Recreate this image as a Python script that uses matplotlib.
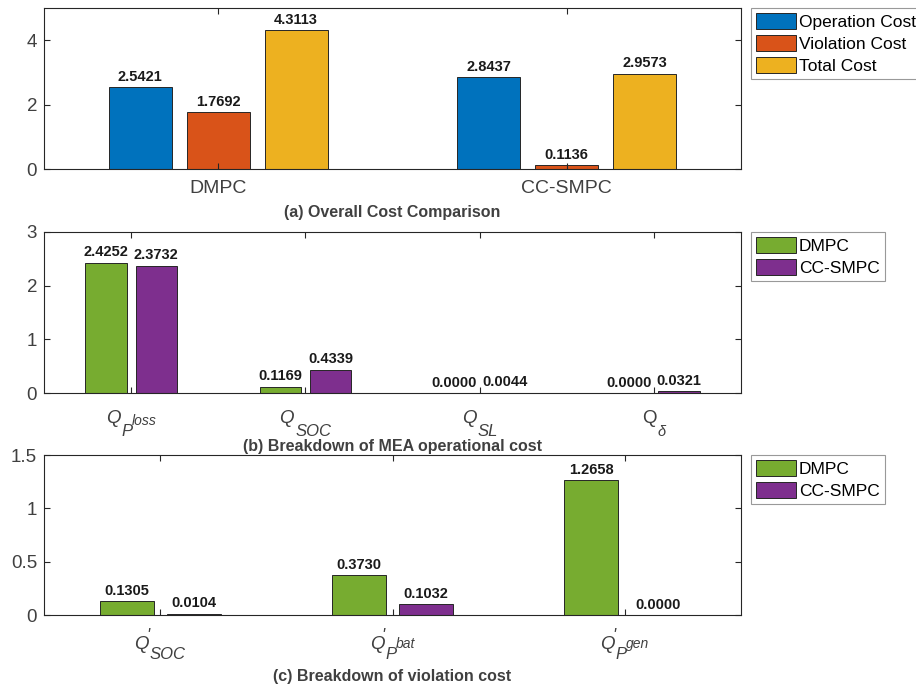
import matplotlib
matplotlib.use("Agg")
import matplotlib.pyplot as plt
import numpy as np

plt.rcParams['font.family'] = ['Liberation Sans', 'DejaVu Sans']

# (a) overall cost
cost_groups = ['DMPC', 'CC-SMPC']
cost_series = ['Operation Cost', 'Violation Cost', 'Total Cost']
operation_cost = [2.5421, 2.8437]
violation_cost = [1.7692, 0.1136]
total_cost = [4.3113, 2.9573]

# (b) operational cost breakdown: (subscript, superscript of subscript, prime, italic Q)
op_labels = [('P', 'loss', False, True), ('SOC', None, False, True),
             ('SL', None, False, True), ('\u03b4', None, False, False)]
op_dmpc = [2.4252, 0.1169, 0.0000, 0.0000]
op_ccsmpc = [2.3732, 0.4339, 0.0044, 0.0321]

# (c) violation cost breakdown
vio_labels = [('SOC', None, True, True), ('P', 'bat', True, True),
              ('P', 'gen', True, True)]
vio_dmpc = [0.1305, 0.3730, 1.2658]
vio_ccsmpc = [0.0104, 0.1032, 0.0000]

methods = ['DMPC', 'CC-SMPC']

c_blue = '#0072BD'
c_orange = '#D95319'
c_yellow = '#EDB120'
c_green = '#77AC30'
c_purple = '#7E2F8E'
tick_gray = '#404040'

fig = plt.figure(figsize=(9.16, 6.89), dpi=100)
L = 44 / 916
W = 697 / 916

q_labels = []  # (Q artist, pieces, axes, x) to be centred after a draw


def style_axes(ax, ylim, yticks, xlim, ncat, title, title_y, xlabels=None):
    ax.set_ylim(*ylim)
    ax.set_yticks(yticks)
    ax.set_yticklabels([f'{t:g}' for t in yticks])
    ax.set_xlim(*xlim)
    ax.set_xticks(np.arange(1, ncat + 1))
    ax.set_xticklabels(xlabels if xlabels else [''] * ncat)
    ax.tick_params(axis='both', direction='in', length=4, width=0.8,
                   colors='#262626', labelcolor=tick_gray,
                   top=True, right=True)
    ax.tick_params(axis='y', labelsize=13.5, pad=5)
    ax.tick_params(axis='x', labelsize=14, pad=8)
    for s in ax.spines.values():
        s.set_color('#262626')
        s.set_linewidth(0.8)
    fig.text(L + W / 2, title_y, title, ha='center', va='center',
             fontsize=11.5, fontweight='bold', color=tick_gray)


def label_bars(ax, bars, vals):
    for b, v in zip(bars, vals):
        ax.annotate(f'{v:.4f}', (b.get_x() + b.get_width() / 2, b.get_height()),
                    xytext=(0, 2.5), textcoords='offset points',
                    ha='center', va='bottom', fontsize=10.5, fontweight='bold',
                    color='#1a1a1a')


def q_label(ax, xpos, spec, base_off, sub_dy):
    sub, sup, prime, q_italic = spec
    kw = dict(textcoords='offset pixels', ha='left', va='baseline',
              color=tick_gray, annotation_clip=False)
    q = ax.annotate('Q', xy=(xpos, 0), xycoords=ax.get_xaxis_transform(),
                    xytext=(0, -base_off), fontsize=13.5,
                    style='italic' if q_italic else 'normal', **kw)
    pieces = [q]
    if prime:
        pieces.append(ax.annotate("'", xy=(1, 0), xycoords=q, xytext=(-3, 13),
                                  fontsize=12, style='italic', **kw))
    small = sub == '\u03b4'
    s = ax.annotate(sub, xy=(1, 0), xycoords=q, xytext=(1, -sub_dy),
                    fontsize=10.5 if small else 12, style='italic', **kw)
    pieces.append(s)
    if sup:
        pieces.append(ax.annotate(sup, xy=(1, 0), xycoords=s, xytext=(-1, 14),
                                  fontsize=10, style='italic', **kw))
    q_labels.append((q, pieces, ax, xpos))


def add_legend(handles, labels, top_px):
    leg = fig.legend(handles, labels, loc='upper left',
                     bbox_to_anchor=(751 / 916, 1 - top_px / 689),
                     fontsize=12.5, frameon=True, fancybox=False,
                     handlelength=2.3, handleheight=1.0, handletextpad=0.15,
                     labelspacing=0.3, borderpad=0.3, borderaxespad=0)
    leg.get_frame().set_edgecolor('#808080')
    leg.get_frame().set_linewidth(0.8)
    return leg


# ---- (a)
ax1 = fig.add_axes([L, 1 - 169 / 689, W, 161 / 689])
x = np.arange(1, len(cost_groups) + 1)
off = 0.2236
bw = 0.18
h1 = []
for i, (vals, col) in enumerate(zip([operation_cost, violation_cost, total_cost],
                                    [c_blue, c_orange, c_yellow])):
    bars = ax1.bar(x + (i - 1) * off, vals, bw, color=col,
                   edgecolor='#262626', linewidth=0.7)
    label_bars(ax1, bars, vals)
    h1.append(bars)
style_axes(ax1, (0, 5), [0, 2, 4], (0.5, 2.5), len(cost_groups),
           '(a) Overall Cost Comparison', 1 - 213 / 689, cost_groups)
add_legend(h1, cost_series, 8)

# ---- (b)
ax2 = fig.add_axes([L, 1 - 393 / 689, W, 161 / 689])
x = np.arange(1, len(op_labels) + 1)
off = 0.144
bw = 0.236
h2 = []
for i, (vals, col) in enumerate(zip([op_dmpc, op_ccsmpc], [c_green, c_purple])):
    bars = ax2.bar(x + (2 * i - 1) * off, vals, bw, color=col,
                   edgecolor='#262626', linewidth=0.7)
    label_bars(ax2, bars, vals)
    h2.append(bars)
style_axes(ax2, (0, 3), [0, 1, 2, 3], (0.5, 4.5), len(op_labels),
           '(b) Breakdown of MEA operational cost', 1 - 446 / 689)
for xi, spec in zip(x, op_labels):
    q_label(ax2, xi, spec, 30, 9)
add_legend(h2, methods, 232)

# ---- (c)
ax3 = fig.add_axes([L, 1 - 615 / 689, W, 160 / 689])
x = np.arange(1, len(vio_labels) + 1)
bw = 0.233
h3 = []
for i, (vals, col) in enumerate(zip([vio_dmpc, vio_ccsmpc], [c_green, c_purple])):
    bars = ax3.bar(x + (2 * i - 1) * off, vals, bw, color=col,
                   edgecolor='#262626', linewidth=0.7)
    label_bars(ax3, bars, vals)
    h3.append(bars)
style_axes(ax3, (0, 1.5), [0, 0.5, 1, 1.5], (0.5, 3.5), len(vio_labels),
           '(c) Breakdown of violation cost', 1 - 676 / 689)
for xi, spec in zip(x, vio_labels):
    q_label(ax3, xi, spec, 34, 6)
add_legend(h3, methods, 455)

# centre the composed Q labels under their ticks
fig.canvas.draw()
renderer = fig.canvas.get_renderer()
for q, pieces, ax, xpos in q_labels:
    ext = [p.get_window_extent(renderer) for p in pieces]
    mid = (min(e.x0 for e in ext) + max(e.x1 for e in ext)) / 2
    tick_px = ax.transData.transform((xpos, 0))[0]
    ox, oy = q.xyann
    q.xyann = (ox - (mid - tick_px), oy)

fig.savefig('out.png', dpi=100, facecolor='white')
